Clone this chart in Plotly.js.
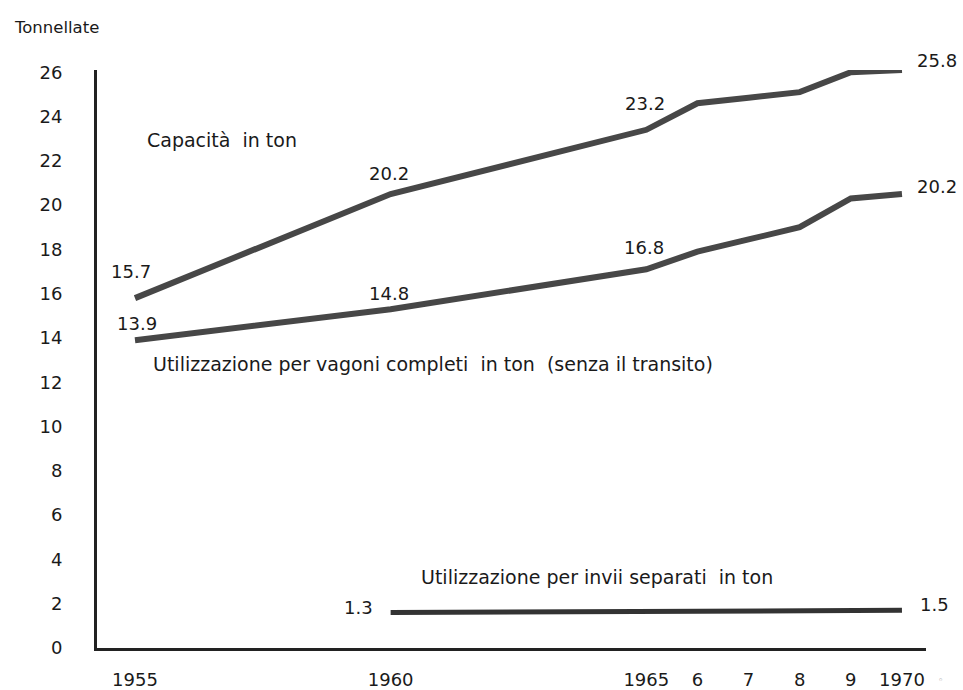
<!DOCTYPE html>
<html>
<head>
<meta charset="utf-8">
<script src="https://cdn.plot.ly/plotly-3.0.1.min.js"></script>
<style>html,body{margin:0;padding:0;background:#fff;}#chart{width:963px;height:690px;}</style>
</head>
<body>
<div id="chart"></div>
<script>
// Years on the x axis
const years = [1955, 1960, 1965, 1966, 1967, 1968, 1969, 1970];
// Capacità in ton (as drawn)
const capacita = [15.8, 20.5, 23.4, 24.6, 24.85, 25.1, 26.0, 26.1];
// Utilizzazione per vagoni completi in ton (senza il transito) (as drawn)
const completi = [13.9, 15.3, 17.1, 17.9, 18.45, 19.0, 20.3, 20.5];
// Utilizzazione per invii separati in ton
const separatiYears = [1960, 1970];
const separati = [1.6, 1.7];

// Printed value labels
const capacitaLabels = ["15.7", "20.2", "23.2", "25.8"];
const completiLabels = ["13.9", "14.8", "16.8", "20.2"];
const separatiLabels = ["1.3", "1.5"];

// Axis ticks
const xTickVals = [1955, 1960, 1965, 1966, 1967, 1968, 1969, 1970];
const xTickText = ["1955", "1960", "1965", "6", "7", "8", "9", "1970"];
const yTickVals = [0, 2, 4, 6, 8, 10, 12, 14, 16, 18, 20, 22, 24, 26];

const lineColor = '#474747';

const traces = [
  {x: years, y: capacita, mode: 'lines', line: {color: lineColor, width: 6}, cliponaxis: false, hoverinfo: 'skip'},
  {x: years, y: completi, mode: 'lines', line: {color: lineColor, width: 6}, cliponaxis: false, hoverinfo: 'skip'},
  {x: separatiYears, y: separati, mode: 'lines', line: {color: '#333333', width: 5}, cliponaxis: false, hoverinfo: 'skip'}
];

const numFont = {family: 'DejaVu Sans', size: 18, color: '#1a1a1a'};
const txtFont = {family: 'DejaVu Sans', size: 19, color: '#1a1a1a'};

function lab(text, x, y, font) {
  return {text: text, x: x, y: y, xref: 'x', yref: 'y', showarrow: false, font: font || numFont, xanchor: 'center', yanchor: 'middle'};
}
function plab(text, x, y, font) {
  return {text: text, x: x, y: y, xref: 'paper', yref: 'paper', showarrow: false, font: font || numFont, xanchor: 'center', yanchor: 'middle'};
}

const annotations = [
  lab(capacitaLabels[0], 1954.92, 16.98),
  lab(capacitaLabels[1], 1959.97, 21.44),
  lab(capacitaLabels[2], 1964.97, 24.6),
  plab(capacitaLabels[3], 1.0133, 1.0173),
  lab(completiLabels[0], 1955.04, 14.67),
  lab(completiLabels[1], 1959.97, 16.03),
  lab(completiLabels[2], 1964.95, 18.1),
  plab(completiLabels[3], 1.0133, 0.7976),
  lab(separatiLabels[0], 1959.38, 1.85),
  plab(separatiLabels[1], 1.0097, 0.0744),
  lab('Capacità  in ton', 1956.70, 22.93, txtFont),
  lab('Utilizzazione per vagoni completi  in ton  (senza il transito)', 1960.83, 12.82, txtFont),
  lab('Utilizzazione per invii separati  in ton', 1964.04, 3.2, txtFont),
  {text: 'Tonnellate', xref: 'paper', yref: 'paper', x: -0.1025, y: 1.074, xanchor: 'left', yanchor: 'middle', showarrow: false, font: {family: 'DejaVu Sans', size: 16.5, color: '#1a1a1a'}},
  {text: '◦', xref: 'paper', yref: 'paper', x: 1.017, y: -0.055, xanchor: 'center', yanchor: 'middle', showarrow: false, font: {family: 'DejaVu Sans', size: 9, color: '#777'}}
];

const layout = {
  width: 963, height: 690,
  margin: {l: 97, r: 37, t: 70, b: 42, pad: 0},
  paper_bgcolor: '#ffffff', plot_bgcolor: '#ffffff',
  showlegend: false,
  font: {family: 'DejaVu Sans', color: '#1a1a1a'},
  xaxis: {
    range: [1954.257, 1970.47], showgrid: false, zeroline: false,
    showline: true, linecolor: '#222', linewidth: 3,
    tickmode: 'array', tickvals: xTickVals, ticktext: xTickText,
    ticks: '', tickfont: {family: 'DejaVu Sans', size: 18, color: '#1a1a1a'},
    ticklabelstandoff: 13, fixedrange: true
  },
  yaxis: {
    range: [0, 26.1], showgrid: false, zeroline: false,
    showline: true, linecolor: '#222', linewidth: 3,
    tickmode: 'array', tickvals: yTickVals,
    ticks: '', tickfont: {family: 'DejaVu Sans', size: 18, color: '#1a1a1a'},
    ticklabelstandoff: 28, fixedrange: true
  },
  annotations: annotations
};

Plotly.newPlot('chart', traces, layout, {staticPlot: true, displayModeBar: false});
</script>
</body>
</html>
